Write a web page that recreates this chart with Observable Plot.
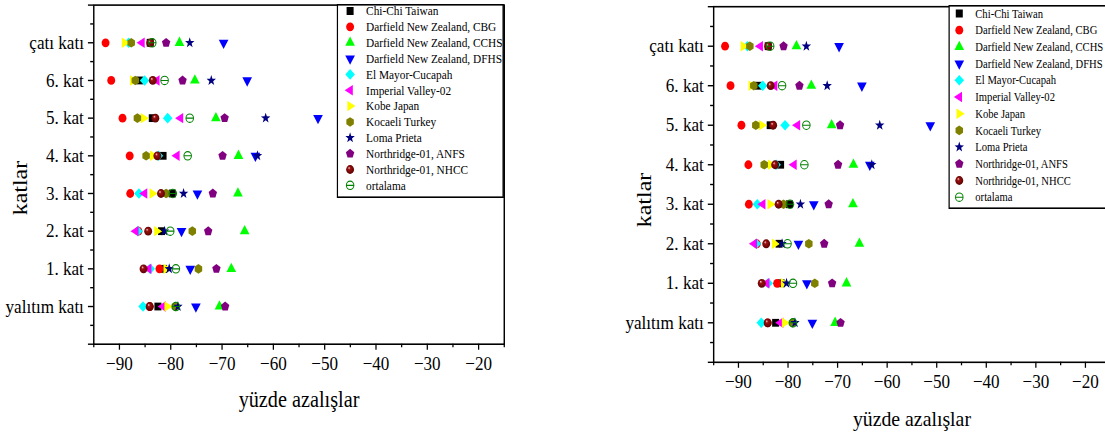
<!DOCTYPE html>
<html><head><meta charset="utf-8">
<script src="https://cdn.jsdelivr.net/npm/d3@7"></script>
<script src="https://cdn.jsdelivr.net/npm/@observablehq/plot@0.6"></script>
<style>
html,body{margin:0;padding:0;background:#fff;overflow:hidden;}
#page{position:relative;width:1105px;height:437px;overflow:hidden;font-family:"Liberation Serif","Times New Roman",serif;}
.panel{position:absolute;top:0;height:437px;transform-origin:0 0;transform:scaleX(0.9);}
.panel svg{display:block;max-width:none !important;}
</style></head><body><div id="page"></div>
<script>
// ---- data (floors listed top to bottom as in the chart) ----
const floors = ["çatı katı", "6. kat", "5. kat", "4. kat", "3. kat", "2. kat", "1. kat", "yalıtım katı"];
const xTicks = [-90, -80, -70, -60, -50, -40, -30, -20];
const xLabel = "yüzde azalışlar";
const yLabel = "katlar";
const seriesNames = ["Chi-Chi Taiwan", "Darfield New Zealand, CBG", "Darfield New Zealand, CCHS",
  "Darfield New Zealand, DFHS", "El Mayor-Cucapah", "Imperial Valley-02", "Kobe Japan",
  "Kocaeli Turkey", "Loma Prieta", "Northridge-01, ANFS", "Northridge-01, NHCC", "ortalama"];
const chiChi   = [-84.0, -86.0, -83.6, -81.5, -79.7, -81.8, -81.4, -82.5];
const cbg      = [-92.7, -91.6, -89.4, -88.0, -87.9, -86.3, -82.2, -84.1];
const cchs     = [-78.3, -75.3, -71.2, -66.8, -66.9, -65.6, -68.2, -70.5];
const dfhs     = [-69.7, -65.1, -51.3, -63.5, -74.8, -77.9, -76.2, -75.1];
const elMayor  = [-88.2, -85.1, -80.6, -82.4, -86.2, -86.4, -84.0, -85.4];
const imperial = [-85.6, -82.7, -78.1, -78.8, -85.1, -86.8, -84.3, -81.5];
const kobe     = [-89.0, -87.4, -85.3, -83.5, -83.6, -82.7, -80.9, -80.7];
const kocaeli  = [-87.7, -86.9, -86.5, -84.8, -80.9, -75.8, -74.6, -79.1];
const loma     = [-76.3, -72.1, -61.5, -63.1, -77.5, -81.2, -80.3, -78.6];
const anfs     = [-80.9, -77.7, -69.5, -69.9, -71.8, -72.7, -71.1, -69.4];
const nhcc     = [-84.0, -83.5, -83.0, -82.6, -81.9, -84.4, -85.3, -84.1];
const ortalama = [-83.6, -81.2, -76.3, -76.7, -79.6, -80.1, -79.0, -79.0];
const seriesValues = [chiChi, cbg, cchs, dfhs, elMayor, imperial, kobe, kocaeli, loma, anfs, nhcc, ortalama];

// ---- symbols ----
const kf = size => Math.sqrt(size / Math.PI) / 4.5;
function regular(n, R, rot) {
  return d3.range(n).map(i => { const a = rot + 2 * Math.PI * i / n; return [R * Math.cos(a), R * Math.sin(a)]; });
}
function poly(ctx, pts) {
  ctx.moveTo(pts[0][0], pts[0][1]);
  for (let i = 1; i < pts.length; i++) ctx.lineTo(pts[i][0], pts[i][1]);
  ctx.closePath();
}
const polySym = (n, R, rot) => ({draw(ctx, size) { poly(ctx, regular(n, R * kf(size), rot)); }});
const symSquare = {draw(ctx, size) { const s = 3.9 * kf(size); ctx.rect(-s, -s, 2 * s, 2 * s); }};
const symCircle = {draw(ctx, size) { const r = 4.4 * kf(size); ctx.moveTo(r, 0); ctx.arc(0, 0, r, 0, 2 * Math.PI); }};
const symStar = {draw(ctx, size) {
  const k = kf(size);
  const pts = d3.range(10).map(i => { const a = -Math.PI / 2 + Math.PI * i / 5; const R = (i % 2 ? 2.2 : 5.5) * k; return [R * Math.cos(a), R * Math.sin(a)]; });
  poly(ctx, pts);
}};
const symTheta = {draw(ctx, size) {
  const r = 4.2 * kf(size);
  ctx.moveTo(r, 0); ctx.arc(0, 0, r, 0, 2 * Math.PI);
  ctx.moveTo(-r, 0); ctx.lineTo(r, 0);
}};
const styles = [
  {symbol: symSquare, fill: "#000000"},
  {symbol: symCircle, fill: "#ff0000"},
  {symbol: polySym(3, 6.2, -Math.PI / 2), fill: "#00ff00"},
  {symbol: polySym(3, 6.2, Math.PI / 2), fill: "#0000ff"},
  {symbol: polySym(4, 5.3, -Math.PI / 2), fill: "#00ffff"},
  {symbol: polySym(3, 6.0, Math.PI), fill: "#ff00ff"},
  {symbol: polySym(3, 6.0, 0), fill: "#ffff00"},
  {symbol: polySym(6, 4.8, -Math.PI / 2), fill: "#808000"},
  {symbol: symStar, fill: "#000080"},
  {symbol: polySym(5, 4.9, -Math.PI / 2), fill: "#800080"},
  {symbol: symCircle, fill: "url(#sph)"},
  {symbol: symTheta, fill: "none", stroke: "#008000"}
];

const rows = seriesNames.flatMap((name, s) => floors.map((f, i) => ({series: name, floor: f, level: floors.length - i, value: seriesValues[s][i]})));

// ---- page ----
const page = document.getElementById("page");
const defsSvg = d3.select(page).append("svg").attr("width", 0).attr("height", 0).style("position", "absolute");
const grad = defsSvg.append("defs").append("radialGradient").attr("id", "sph").attr("cx", "0.5").attr("cy", "0.5").attr("r", "0.55").attr("fx", "0.35").attr("fy", "0.3");
grad.append("stop").attr("offset", "0").attr("stop-color", "#f4d8d8");
grad.append("stop").attr("offset", "0.3").attr("stop-color", "#9a1010");
grad.append("stop").attr("offset", "1").attr("stop-color", "#560000");

function makePanel(o) {
  const dots = seriesNames.map((name, s) => Plot.dot(rows.filter(d => d.series === name), {
    x: "value", y: "level", r: 4.5, symbol: styles[s].symbol,
    fill: styles[s].fill, stroke: styles[s].stroke || "none", strokeWidth: 1.1
  }));
  const minorX = d3.range(-95, -14, 5).filter(v => v % 10 !== 0);
  const minorY = d3.range(0.5, floors.length + 1, 1);
  return Plot.plot({
    width: o.width, height: o.height,
    marginLeft: o.marginLeft, marginRight: o.marginRight, marginTop: o.marginTop, marginBottom: o.marginBottom,
    style: {fontFamily: '"Liberation Serif", "Times New Roman", serif', color: "black", background: "transparent", overflow: "visible"},
    x: {domain: [-95, -15]},
    y: {domain: [0, floors.length + 1]},
    marks: [
      Plot.frame({stroke: "black", strokeWidth: 1.6}),
      Plot.axisX({ticks: xTicks, tickSize: 6, tickPadding: 6, fontSize: o.tickFont, label: null, strokeWidth: 1.4}),
      Plot.axisX({ticks: minorX, tickSize: 3.5, tickFormat: () => "", label: null, strokeWidth: 1.4}),
      Plot.axisY({ticks: d3.range(0, floors.length + 2), tickSize: 6, tickPadding: 5, fontSize: o.tickFont,
        tickFormat: d => floors[floors.length - d] ?? "", label: null, strokeWidth: 1.4}),
      Plot.axisY({ticks: minorY, tickSize: 3.5, tickFormat: () => "", label: null, strokeWidth: 1.4}),
      ...dots,
      Plot.text([xLabel], {frameAnchor: "bottom", text: d => d, dy: o.xdy, lineAnchor: "bottom", textAnchor: "middle", fontSize: o.xTitleFont}),
      Plot.text([yLabel], {frameAnchor: "left", text: d => d, rotate: -90, dx: o.ydx, dy: o.ydy, lineAnchor: "top", textAnchor: "middle", fontSize: o.yTitleFont})
    ]
  });
}

function makeLegend(container, o) {
  const svg = d3.select(container).append("svg")
    .style("position", "absolute").style("left", o.left + "px").style("top", o.top + "px")
    .attr("width", o.width).attr("height", o.height);
  svg.append("rect").attr("x", 0.8).attr("y", 0.8).attr("width", o.width - 1.6).attr("height", o.height - 1.6)
    .attr("fill", "white").attr("stroke", "black").attr("stroke-width", 1.6);
  seriesNames.forEach((name, i) => {
    const y = o.y0 + o.dy * i;
    svg.append("path").attr("transform", `translate(${o.x0},${y})`)
      .attr("d", d3.symbol(styles[i].symbol, Math.PI * 4.5 * 4.5)())
      .attr("fill", styles[i].fill).attr("stroke", styles[i].stroke || "none").attr("stroke-width", 1.1);
    svg.append("text").attr("x", o.tx).attr("y", y).attr("dy", "0.35em")
      .style("font-family", '"Liberation Serif", "Times New Roman", serif').style("font-size", o.fontSize + "px")
      .text(name);
  });
}

// left panel
const left = d3.select(page).append("div").attr("class", "panel").style("left", "0px").style("width", "667px").node();
left.appendChild(makePanel({width: 667, height: 437, marginLeft: 103.7, marginRight: 107.2, marginTop: 4.6, marginBottom: 93.3,
  tickFont: 19, xTitleFont: 22.5, yTitleFont: 24, xdy: 63, ydx: -91.5, ydy: 13.4}));
makeLegend(left, {left: 373.9, top: 3.5, width: 185.9, height: 194, x0: 15, tx: 32.8, y0: 7, dy: 15.85, fontSize: 12.6});

// right panel
const right = d3.select(page).append("div").attr("class", "panel").style("left", "600px").style("width", "573px").node();
right.appendChild(makePanel({width: 573, height: 437, marginLeft: 125.8, marginRight: 6.6, marginTop: 6.2, marginBottom: 75.2,
  tickFont: 19, xTitleFont: 22, yTitleFont: 24, xdy: 63.2, ydx: -86.9, ydy: 15.5}));
makeLegend(right, {left: 386.7, top: 4.5, width: 200, height: 204, x0: 12.2, tx: 30, y0: 8.5, dy: 16.7, fontSize: 11.8});
</script>
</body></html>
